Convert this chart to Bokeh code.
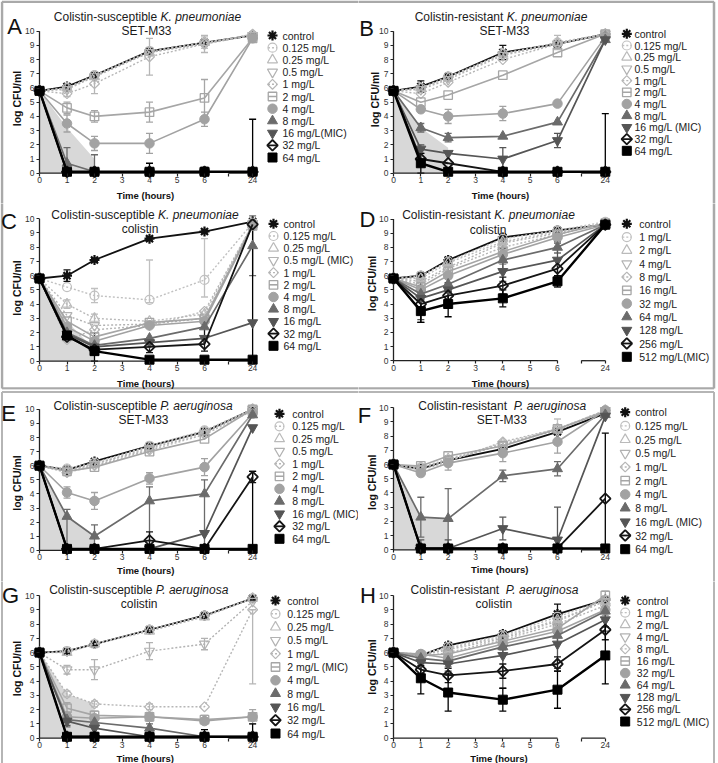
import math
from bokeh.plotting import figure
from bokeh.models import (Range1d, FixedTicker, LinearAxis, Label, Whisker, TeeHead,
                          ColumnDataSource)
from bokeh.layouts import column, row
from bokeh.core.properties import value
from bokeh.embed import file_html
from bokeh.resources import INLINE

FONT = "Liberation Sans"

# ---------------------------------------------------------------- data
TIMES = [0, 1, 2, 4, 6, 24]
X_TICK_HOURS = ["0", "1", "2", "3", "4", "5", "6", "", "24"]

LOW_CONCS = ["0.125", "0.25", "0.5", "1", "2", "4", "8", "16", "32", "64"]
HIGH_CONCS = ["1", "2", "4", "8", "16", "32", "64", "128", "256", "512"]

# A  Colistin-susceptible K. pneumoniae, SET-M33
A_VALUES = [
    [5.8, 6.1, 6.9, 8.6, 9.2, 9.7],
    [5.8, 6.0, 6.9, 8.6, 9.2, 9.7],
    [5.8, 6.0, 6.8, 8.5, 9.2, 9.7],
    [5.8, 5.9, 6.8, 8.5, 9.1, 9.7],
    [5.8, 5.6, 6.3, 8.2, 9.1, 9.8],
    [5.8, 4.6, 4.0, 4.3, 5.3, 9.5],
    [5.8, 3.5, 2.1, 2.1, 3.8, 9.5],
    [5.8, 0.7, 0.1, 0.1, 0.1, 0.1],
    [5.8, 0.1, 0.1, 0.1, 0.1, 0.1],
    [5.8, 0.1, 0.1, 0.1, 0.1, 0.1],
    [5.8, 0.1, 0.1, 0.1, 0.1, 0.1],
]
A_ERRORS = [
    [0, 0.15, 0.15, 0.1, 0.2, 0],
    [0, 0, 0, 0, 0.4, 0],
    [0, 0, 0, 0, 0, 0],
    [0, 0, 0, 0, 0, 0],
    [0, 0.2, 0.7, 1.3, 0.6, 0],
    [0, 0.4, 0.4, 0.7, 1.3, 0],
    [0, 0.6, 0.5, 0.7, 0.5, 0],
    [0, 1.1, 1.2, 0, 0, 0],
    [0, 0, 0, 0, 0, 0],
    [0, 0, 0, 0, 0, 0],
    [0, 0, 0, 0.6, 0.3, (0, 3.7)],
]
A_SHADE_T = [0, 0, 1, 2, 2]
A_SHADE_V = [0, 5.8, 3.2, 1.0, 0]

# B  Colistin-resistant K. pneumoniae, SET-M33
B_VALUES = [
    [5.8, 6.1, 6.8, 8.5, 9.1, 9.8],
    [5.8, 6.0, 6.8, 8.4, 9.2, 9.8],
    [5.8, 6.0, 6.7, 8.4, 9.2, 9.8],
    [5.8, 5.9, 6.6, 8.3, 9.1, 9.8],
    [5.8, 5.6, 6.4, 8.0, 9.1, 9.8],
    [5.8, 5.0, 5.5, 6.9, 8.5, 9.8],
    [5.8, 4.5, 4.0, 4.2, 4.9, 9.6],
    [5.8, 3.2, 2.5, 2.6, 3.6, 9.4],
    [5.8, 1.7, 1.4, 1.0, 2.3, 9.4],
    [5.8, 1.0, 0.7, 0.1, 0.1, 0.1],
    [5.8, 0.7, 0.1, 0.1, 0.1, 0.1],
]
B_ERRORS = [
    [0, 0.4, 0.2, 0.5, 0.2, 0],
    [0, 0, 0, 0, 0, 0],
    [0, 0, 0, 0, 0.5, 0],
    [0, 0, 0, 0, 0, 0],
    [0, 0, 0, 0, 0, 0],
    [0, 0, 0, 0, 0, 0],
    [0, 0, 0.5, 0.5, 0.2, 0],
    [0, 0.3, 0.3, 0, 0, 0],
    [0, 0.3, 0, 0.8, 0.5, 0],
    [0, 0, 0, 0, 0, 0],
    [0, 0.7, 0, 0, 0, (0, 4.1)],
]
B_SHADE_T = [0, 0, 1, 2, 2]
B_SHADE_V = [0, 5.8, 3.2, 1.8, 0]

# C  Colistin-susceptible K. pneumoniae, colistin
C_VALUES = [
    [5.8, 6.0, 7.1, 8.6, 9.1, 9.8],
    [5.8, 5.2, 4.6, 4.3, 5.7, 9.7],
    [5.8, 4.0, 3.0, 2.8, 3.3, 9.6],
    [5.8, 3.2, 2.5, 2.6, 3.0, 9.6],
    [5.8, 1.5, 2.2, 2.5, 3.5, 9.6],
    [5.8, 2.8, 1.7, 2.7, 3.0, 9.5],
    [5.8, 2.4, 1.4, 2.5, 2.8, 9.5],
    [5.8, 2.0, 1.1, 1.6, 2.4, 8.1],
    [5.8, 1.9, 1.0, 1.3, 1.6, 2.7],
    [5.8, 1.7, 0.8, 1.0, 1.2, 9.6],
    [5.8, 1.8, 0.7, 0.1, 0.1, 0.1],
]
C_ERRORS = [
    [0, 0.4, 0.1, 0.1, 0.1, 0],
    [0, 0, 0.5, (0.2, 2.8), (1.2, 2.9), 0],
    [0, 0.3, 0.3, 0, 0, 0],
    [0, 0, 0, 0, 0, 0],
    [0, 0, 0, 0, 0, 0],
    [0, 0, 0, 0, 0, 0],
    [0, 0, 0, 0, 0, 0],
    [0, 0, 0, 0, 0, 2.1],
    [0, 0, 0, 0, 0, 0],
    [0, 0, 0, 0.4, (0.5, 1.4), 0],
    [0, 0, 1.3, 0, 0, (0, 9.3)],
]
C_SHADE_T = [0, 0, 1, 2, 2]
C_SHADE_V = [0, 5.8, 2.8, 0.8, 0]

# D  Colistin-resistant K. pneumoniae, colistin
D_VALUES = [
    [5.8, 6.0, 7.1, 8.7, 9.2, 9.6],
    [5.8, 6.0, 7.0, 8.6, 9.2, 9.8],
    [5.8, 5.8, 6.9, 8.4, 9.1, 9.7],
    [5.8, 5.6, 6.6, 8.3, 9.0, 9.7],
    [5.8, 5.4, 6.5, 8.0, 8.9, 9.7],
    [5.8, 5.2, 6.3, 7.7, 8.9, 9.7],
    [5.8, 5.0, 6.0, 7.5, 8.7, 9.6],
    [5.8, 4.7, 5.4, 7.1, 8.0, 9.6],
    [5.8, 4.4, 5.0, 6.3, 7.1, 9.6],
    [5.8, 4.0, 4.6, 5.3, 6.5, 9.6],
    [5.8, 3.5, 4.0, 4.4, 5.6, 9.6],
]
D_ERRORS = [
    [0, 0.2, 0.1, 0.1, 0, 0],
    [0, 0.2, 0.3, 0.3, 0.1, 0],
    [0, 0.2, 0.3, 0.4, 0.1, 0],
    [0, 0.3, 0.3, 0.4, 0.1, 0],
    [0, 0.4, 0.3, 0.4, 0.2, 0],
    [0, 0.5, 0.4, 0.5, 0.2, 0],
    [0, 0.8, 0.6, 0.7, 0.3, 0],
    [0, 1.2, 0.6, 0.8, 0.4, 0],
    [0, 1.5, 0.8, 0.7, 1.2, 0],
    [0, 1.3, 0.9, 0.6, 0.6, 0],
    [0, 0.8, 0.9, 0.6, 0.4, 0.2],
]
D_SHADE_T = []
D_SHADE_V = []

# E  Colistin-susceptible P. aeruginosa, SET-M33
E_VALUES = [
    [6.0, 5.7, 6.3, 7.4, 8.4, 10.0],
    [6.0, 5.8, 6.2, 7.4, 8.5, 10.0],
    [6.0, 5.7, 6.1, 7.3, 8.4, 10.0],
    [6.0, 5.6, 6.1, 7.2, 8.3, 10.0],
    [6.0, 5.5, 6.0, 7.1, 8.2, 9.9],
    [6.0, 5.6, 5.9, 7.0, 7.9, 10.0],
    [6.0, 4.1, 3.5, 5.1, 5.9, 9.7],
    [6.0, 2.4, 1.0, 3.5, 4.0, 9.6],
    [6.0, 0.1, 0.1, 0.1, 1.2, 8.7],
    [6.0, 0.1, 0.1, 0.7, 0.1, 5.2],
    [6.0, 0.1, 0.1, 0.1, 0.1, 0.1],
]
E_ERRORS = [
    [0, 0.1, 0.2, 0.2, 0.2, 0],
    [0, 0.2, 0.2, 0, 0.2, 0],
    [0, 0, 0, 0, 0, 0],
    [0, 0, 0, 0, 0, 0],
    [0, 0, 0, 0, 0, 0],
    [0, 0.3, 0, 0, 0, 0],
    [0, 0.4, 0.6, 0.4, 0.6, 0],
    [0, (2.4, 0.5), 0.8, (3.4, 1.0), (4.0, 1.0), 0],
    [0, 0, 0, 0, 0, 0],
    [0, 0, 0, 0.6, 0, 0.4],
    [0, 0, 0, 0, 0, (0, 5.5)],
]
E_SHADE_T = [0, 0, 1, 2, 2]
E_SHADE_V = [0, 6.0, 2.4, 1.0, 0]

# F  Colistin-resistant P. aeruginosa, SET-M33
F_VALUES = [
    [6.0, 5.7, 6.3, 7.1, 8.3, 9.6],
    [6.0, 5.8, 6.3, 7.4, 8.5, 9.8],
    [6.0, 5.8, 6.4, 7.5, 8.5, 9.8],
    [6.0, 5.7, 6.3, 7.4, 8.4, 9.8],
    [6.0, 5.6, 6.2, 7.6, 8.5, 9.8],
    [6.0, 5.9, 6.6, 7.3, 8.5, 9.7],
    [6.0, 5.4, 6.1, 6.8, 7.6, 9.8],
    [6.0, 2.3, 2.2, 5.2, 5.7, 9.5],
    [6.0, 0.1, 0.1, 1.5, 0.7, 9.4],
    [6.0, 0.1, 0.1, 0.1, 0.1, 3.6],
    [6.0, 0.1, 0.1, 0.1, 0.1, 0.1],
]
F_ERRORS = [
    [0, 0.1, 0.2, 0.2, 0.2, 0],
    [0, 0.2, 0.3, 0.2, 0.7, 0],
    [0, 0, 0, 0, 0, 0],
    [0, 0, 0, 0, 0, 0],
    [0, 0, 0, 0, 0, 0],
    [0, 0, 0, 0, 0, 0],
    [0, 0.2, 0.5, 0.6, 0.8, 0],
    [0, 1.4, 2.1, 0.4, 0.5, 0],
    [0, 0.6, 0.6, 0.8, (0.6, 2.3), 0],
    [0, 0, 0, 0, 0, 0],
    [0, 0, 0, 0, 0, (0, 8.1)],
]
F_SHADE_T = [0, 0, 1, 2, 2]
F_SHADE_V = [0, 6.0, 2.3, 2.2, 0]

# G  Colistin-susceptible P. aeruginosa, colistin
G_VALUES = [
    [6.0, 6.1, 6.6, 7.6, 8.6, 9.8],
    [6.0, 6.1, 6.6, 7.6, 8.6, 9.8],
    [6.0, 6.0, 6.6, 7.5, 8.5, 9.8],
    [6.0, 4.8, 4.8, 6.1, 6.6, 9.6],
    [6.0, 3.1, 2.4, 2.2, 2.2, 9.0],
    [6.0, 2.1, 1.6, 1.5, 1.3, 1.5],
    [6.0, 1.5, 1.4, 1.5, 1.2, 1.5],
    [6.0, 1.3, 1.1, 0.7, 0.1, 0.1],
    [6.0, 1.2, 0.7, 0.1, 0.1, 0.1],
    [6.0, 0.1, 0.1, 0.1, 0.1, 0.1],
    [6.0, 0.1, 0.1, 0.1, 0.1, 0.1],
]
G_ERRORS = [
    [0, 0.1, 0.1, 0.1, 0.1, 0],
    [0, 0, 0, 0, 0, 0],
    [0, 0, 0, 0, 0, 0],
    [0, 0.3, 0.7, 0.6, 0.4, 0],
    [0, 0.2, 0.2, 0.2, 0, (5.2, 0)],
    [0, 0.4, 0.3, 0.3, 0.3, 0.5],
    [0, 0.3, 0.2, 0.2, 0.2, 0.2],
    [0, 0.5, 0.4, 0.3, 0, 0],
    [0, 0.3, 0.3, 0, 0, 0],
    [0, 0, 0, 0, 0, 0],
    [0, 0, 0, 0, 0.5, 0.9],
]
G_SHADE_T = [0, 0, 1, 2, 2]
G_SHADE_V = [0, 6.0, 3.1, 2.4, 0]

# H  Colistin-resistant P. aeruginosa, colistin
H_VALUES = [
    [6.0, 5.8, 6.5, 7.3, 8.7, 9.7],
    [6.0, 5.9, 6.4, 7.2, 8.5, 9.7],
    [6.0, 5.8, 6.3, 7.1, 8.3, 9.6],
    [6.0, 5.8, 6.2, 7.0, 8.2, 9.6],
    [6.0, 5.7, 6.0, 6.9, 8.0, 9.3],
    [6.0, 5.8, 5.9, 6.8, 7.7, 10.0],
    [6.0, 5.9, 5.6, 6.6, 7.5, 9.0],
    [6.0, 5.6, 5.4, 6.4, 7.2, 8.9],
    [6.0, 5.3, 5.2, 5.8, 6.6, 8.3],
    [6.0, 4.8, 4.4, 4.7, 5.2, 7.6],
    [6.0, 4.2, 3.2, 2.7, 3.4, 5.8],
]
H_ERRORS = [
    [0, 0.1, 0.1, 0.1, 0.7, 0],
    [0, 0.1, 0.2, 0.2, 0.3, 0.2],
    [0, 0.1, 0.2, 0.2, 0.3, 0.2],
    [0, 0.1, 0.2, 0.2, 0.3, 0.3],
    [0, 0.2, 0.3, 0.3, 0.3, 0.3],
    [0, 0.2, 0.3, 0.3, 0.3, 0.3],
    [0, 0.2, 0.3, 0.3, 0.4, 0.4],
    [0, 0.3, 0.4, 0.4, 0.5, 0.6],
    [0, 0.3, 0.5, (2.3, 0.4), 1.7, 0.8],
    [0, 0.3, 0.5, 0.5, 0.5, 0.7],
    [0, 1.1, 1.3, 0.8, 1.3, 2.0],
]
H_SHADE_T = []
H_SHADE_V = []

TITLES = {
    "A": ("Colistin-susceptible ", "K. pneumoniae", "SET-M33"),
    "B": ("Colistin-resistant ", "K. pneumoniae", "SET-M33"),
    "C": ("Colistin-susceptible ", "K. pneumoniae", "colistin"),
    "D": ("Colistin-resistant ", "K. pneumoniae", "colistin"),
    "E": ("Colistin-susceptible ", "P. aeruginosa", "SET-M33"),
    "F": ("Colistin-resistant  ", "P. aeruginosa", "SET-M33"),
    "G": ("Colistin-susceptible ", "P. aeruginosa", "colistin"),
    "H": ("Colistin-resistant  ", "P. aeruginosa", "colistin"),
}
# index of the MIC concentration (0 = control) and how "(MIC)" is appended
MIC = {"A": (8, "(MIC)"), "B": (8, " (MIC)"), "C": (3, " (MIC)"), "D": (10, "(MIC)"),
       "E": (8, " (MIC)"), "F": (8, " (MIC)"), "G": (5, " (MIC)"), "H": (10, " (MIC)")}

PANEL_DATA = {
    "A": (A_VALUES, A_ERRORS, A_SHADE_T, A_SHADE_V, LOW_CONCS),
    "B": (B_VALUES, B_ERRORS, B_SHADE_T, B_SHADE_V, LOW_CONCS),
    "C": (C_VALUES, C_ERRORS, C_SHADE_T, C_SHADE_V, LOW_CONCS),
    "D": (D_VALUES, D_ERRORS, D_SHADE_T, D_SHADE_V, HIGH_CONCS),
    "E": (E_VALUES, E_ERRORS, E_SHADE_T, E_SHADE_V, LOW_CONCS),
    "F": (F_VALUES, F_ERRORS, F_SHADE_T, F_SHADE_V, LOW_CONCS),
    "G": (G_VALUES, G_ERRORS, G_SHADE_T, G_SHADE_V, LOW_CONCS),
    "H": (H_VALUES, H_ERRORS, H_SHADE_T, H_SHADE_V, HIGH_CONCS),
}

# ---------------------------------------------------------------- styles
COLORS = ["#111111", "#c0c0c0", "#bababa", "#b2b2b2", "#b6b6b6", "#a6a6a6",
          "#a2a2a2", "#6b6b6b", "#555555", "#151515", "#000000"]
DASHES = ["solid", "2 2", "2 2", "2 2", "2 2", "solid", "solid", "solid",
          "solid", "solid", "solid"]
LINE_W = [1.8, 1.4, 1.4, 1.4, 1.4, 1.6, 1.6, 1.7, 1.7, 1.8, 2.4]
MARKERS = ["asterisk", "circle", "triangle", "inverted_triangle", "square", "square",
           "circle", "triangle", "inverted_triangle", "square", "square"]
ANGLES = [0, 0, 0, 0, math.pi / 4, 0, 0, 0, 0, math.pi / 4, 0]
FILLED = [False, False, False, False, False, False, True, True, True, False, True]
SIZES = [10, 9, 10, 10, 7, 8.5, 9.5, 10, 10, 7.5, 9]
MARK_LW = [2.2, 1.2, 1.2, 1.2, 1.2, 1.3, 1, 1, 1, 1.8, 1]

BREAK_POS = 6.875     # start of the axis segment after the break
POS_24 = 7.75         # where 24 h sits on the broken time axis
X_TICK_POS = [0.0, 1.0, 2.0, 3.0, 4.0, 5.0, 6.0, BREAK_POS, POS_24]


def tpos(t):
    return POS_24 if t == 24 else float(t)


# page geometry of each panel (pixels)
PANELS = [
    dict(key="A", ox=0, oy=0, w=358, h=203, px0=39, kx=27.5, py0=172.7, ky=14.2,
         letter=(14, 26), t1=(147, 16), t2=(146, 30), leg=(272, 35, 12.2, 282),
         xlab=(145, 194.5), ylab=(16, 98)),
    dict(key="B", ox=358, oy=0, w=360, h=203, px0=393, kx=27.33, py0=172.7, ky=14.2,
         letter=(366, 27.5), t1=(500.5, 16), t2=(504, 30), leg=(626.3, 33.3, 11.7, 634),
         xlab=(500, 194.5), ylab=(374.5, 99)),
    dict(key="C", ox=0, oy=203, w=358, h=186, px0=39, kx=27.5, py0=360.6, ky=14.24,
         letter=(8.5, 221), t1=(144.5, 214), t2=(139.5, 228), leg=(273, 223.3, 12.2, 283),
         xlab=(145.3, 382.7), ylab=(16, 287.5)),
    dict(key="D", ox=358, oy=203, w=360, h=186, px0=393, kx=27.33, py0=360.2, ky=14.17,
         letter=(367, 219), t1=(488, 214), t2=(487.5, 229.3), leg=(626.3, 223.3, 13.3, 638.7),
         xlab=(500, 382.7), ylab=(371.5, 283)),
    dict(key="E", ox=0, oy=389, w=358, h=192, px0=39, kx=27.5, py0=549.8, ky=14.1,
         letter=(8, 413), t1=(143.3, 405), t2=(143, 419), leg=(279, 413.3, 12.5, 291.7),
         xlab=(145.3, 570), ylab=(16.5, 482.5)),
    dict(key="F", ox=358, oy=389, w=360, h=192, px0=393, kx=27.33, py0=549.4, ky=14.23,
         letter=(364, 415), t1=(502.5, 405), t2=(501.3, 419.3), leg=(624.7, 411.7, 13.7, 634.7),
         xlab=(499.3, 569.3), ylab=(371.5, 481.7)),
    dict(key="G", ox=0, oy=581, w=358, h=182, px0=39, kx=27.5, py0=737.7, ky=14.27,
         letter=(10, 595), t1=(139, 589), t2=(138.7, 603.3), leg=(275, 600, 13.3, 286.7),
         xlab=(144.7, 758), ylab=(16, 668)),
    dict(key="H", ox=358, oy=581, w=360, h=182, px0=393, kx=27.33, py0=737.7, ky=14.27,
         letter=(367.5, 595), t1=(494.7, 589), t2=(493.3, 603.3), leg=(624.7, 600, 12.1, 636.3),
         xlab=(498.5, 757.7), ylab=(371.5, 666.5)),
]

# frame boxes around the upper and lower halves (page pixels)
BOX_LINES = [
    (1.5, 1.2, 713.5, 1.2, "#a9a9a9", 2.5), (1.5, 1.2, 1.5, 388, "#a9a9a9", 2.5),
    (713.5, 1.2, 713.5, 388, "#a9a9a9", 2.5), (1.5, 388, 713.5, 388, "#a9a9a9", 2.5),
    (1.5, 391.5, 713.5, 391.5, "#b5b5b5", 2), (1.5, 391.5, 1.5, 780, "#b5b5b5", 2),
    (713.5, 391.5, 713.5, 780, "#b5b5b5", 2),
]

# Liberation Sans advance widths (1/1000 em) for title layout
CHAR_W = {' ': 278, '-': 333, '.': 278, 'C': 722, 'K': 667, 'P': 667, 'S': 667, 'E': 667,
          'T': 611, 'M': 833, '3': 556, 'a': 556, 'b': 556, 'c': 500, 'e': 556, 'g': 556,
          'i': 222, 'l': 222, 'm': 833, 'n': 556, 'o': 556, 'p': 556, 'r': 333, 's': 500,
          't': 278, 'u': 556}


def text_w(s, size):
    return sum(CHAR_W.get(c, 556) for c in s) * size / 1000.0


def make_panel(P):
    key = P["key"]
    values, errors, shade_t, shade_v, concs = PANEL_DATA[key]
    kx, ky, px0, py0 = P["kx"], P["ky"], P["px0"], P["py0"]
    ox, oy, W, H = P["ox"], P["oy"], P["w"], P["h"]

    def fx(X):
        return (X - px0) / kx

    def fy(Y):
        return (py0 - Y) / ky

    p = figure(width=W, height=H,
               x_range=Range1d(fx(ox), fx(ox + W)),
               y_range=Range1d(fy(oy + H), fy(oy)),
               x_axis_type=None, y_axis_type=None,
               toolbar_location=None, output_backend="svg", min_border=0,
               outline_line_color=None, background_fill_color="white",
               border_fill_color="white")
    p.title.visible = False

    # outer boxes
    for (x0, y0, x1, y1, col, lw) in BOX_LINES:
        p.segment(x0=[fx(x0)], y0=[fy(y0)], x1=[fx(x1)], y1=[fy(y1)],
                  line_color=col, line_width=lw)

    # axes (fixed at the data origin), lines drawn separately for the break
    xax = LinearAxis(fixed_location=0, ticker=FixedTicker(ticks=X_TICK_POS),
                     major_label_overrides=dict(zip(X_TICK_POS, X_TICK_HOURS)))
    yax = LinearAxis(fixed_location=0, ticker=FixedTicker(ticks=list(range(11))))
    for ax in (xax, yax):
        ax.axis_line_color = None
        ax.major_tick_line_color = "#222222"
        ax.major_tick_line_width = 1.2
        ax.major_tick_in = 0
        ax.major_tick_out = 3
        ax.minor_tick_line_color = None
        ax.major_label_text_font = FONT
        ax.major_label_text_font_size = "8.5px"
        ax.major_label_text_color = "#333333"
    xax.major_label_standoff = 1
    yax.major_label_standoff = 2
    p.add_layout(xax, "below")
    p.add_layout(yax, "left")
    p.segment(x0=[0, BREAK_POS, 0], y0=[0, 0, 0], x1=[6, POS_24, 0], y1=[0, 0, 10],
              line_color="#222222", line_width=1.3)

    # shaded region
    if shade_t:
        p.patch([tpos(t) for t in shade_t], shade_v, fill_color="#d8d8d8",
                line_color=None, level="image")

    xs = [tpos(t) for t in TIMES]
    for i, (vals, errs) in enumerate(zip(values, errors)):
        col = COLORS[i]
        p.line(xs, vals, line_color=col, line_width=LINE_W[i], line_dash=DASHES[i])
        bx, lo, hi = [], [], []
        for x, v, e in zip(xs, vals, errs):
            if e == 0:
                continue
            dn, up = e if isinstance(e, tuple) else (e, e)
            bx.append(x)
            lo.append(max(v - dn, 0.0))
            hi.append(v + up)
        if bx:
            src = ColumnDataSource(dict(base=bx, lower=lo, upper=hi))
            p.add_layout(Whisker(source=src, base="base", lower="lower", upper="upper",
                                 line_color=col, line_width=1.3,
                                 upper_head=TeeHead(size=7, line_color=col, line_width=1.3),
                                 lower_head=TeeHead(size=7, line_color=col, line_width=1.3)))
        p.scatter(xs, vals, marker=MARKERS[i], size=SIZES[i], angle=ANGLES[i],
                  line_color=col, line_width=MARK_LW[i],
                  fill_color=col if FILLED[i] else None)

    # legend (drawn to match the original's compact layout)
    mx, cy, rh, tx = P["leg"]
    mic_i, mic_txt = MIC[key]
    labels = ["control"] + [f"{c} mg/L" for c in concs]
    labels[mic_i] = labels[mic_i] + mic_txt
    for i, lab in enumerate(labels):
        yy = fy(cy + i * rh)
        if i in (1, 4, 5, 9):
            p.segment(x0=[fx(mx - 4.5)], y0=[yy], x1=[fx(mx + 4.5)], y1=[yy],
                      line_color=COLORS[i], line_width=LINE_W[i], line_dash=DASHES[i])
        p.scatter([fx(mx)], [yy], marker=MARKERS[i], size=SIZES[i], angle=ANGLES[i],
                  line_color=COLORS[i], line_width=MARK_LW[i],
                  fill_color=COLORS[i] if FILLED[i] else None)
    p.text(x=[fx(tx)] * len(labels), y=[fy(cy + i * rh) for i in range(len(labels))],
           text=labels, text_font=value(FONT), text_font_size="10.5px",
           text_color="#222222", text_baseline="middle", text_align="left")

    # titles
    normal, ital, line2 = TITLES[key]
    size = 12
    total = text_w(normal, size) + text_w(ital, size)
    left = P["t1"][0] - total / 2
    p.add_layout(Label(x=fx(left), y=fy(P["t1"][1]), text=normal.rstrip(), text_font=FONT,
                       text_font_size=f"{size}px", text_color="#1a1a1a",
                       text_baseline="middle", text_align="left"))
    p.add_layout(Label(x=fx(left + text_w(normal, size)), y=fy(P["t1"][1]), text=ital,
                       text_font=FONT, text_font_size=f"{size}px", text_font_style="italic",
                       text_color="#1a1a1a", text_baseline="middle", text_align="left"))
    p.add_layout(Label(x=fx(P["t2"][0]), y=fy(P["t2"][1]), text=line2, text_font=FONT,
                       text_font_size=f"{size}px", text_color="#1a1a1a",
                       text_baseline="middle", text_align="center"))
    # panel letter
    p.add_layout(Label(x=fx(P["letter"][0]), y=fy(P["letter"][1]), text=key, text_font=FONT,
                       text_font_size="22px", text_color="#111111",
                       text_baseline="middle", text_align="center"))
    # axis titles
    p.add_layout(Label(x=fx(P["xlab"][0]), y=fy(P["xlab"][1]), text="Time (hours)",
                       text_font=FONT, text_font_size="9.5px", text_font_style="bold",
                       text_color="#111111", text_baseline="middle", text_align="center"))
    p.add_layout(Label(x=fx(P["ylab"][0]), y=fy(P["ylab"][1]), text="log CFU/ml",
                       text_font=FONT, text_font_size="10.5px", text_font_style="bold",
                       text_color="#111111", text_baseline="middle", text_align="center",
                       angle=math.pi / 2))
    return p


figs = {P["key"]: make_panel(P) for P in PANELS}
layout = column(row(figs["A"], figs["B"]), row(figs["C"], figs["D"]),
                row(figs["E"], figs["F"]), row(figs["G"], figs["H"]))

open("out.html", "w").write(file_html(layout, INLINE))
